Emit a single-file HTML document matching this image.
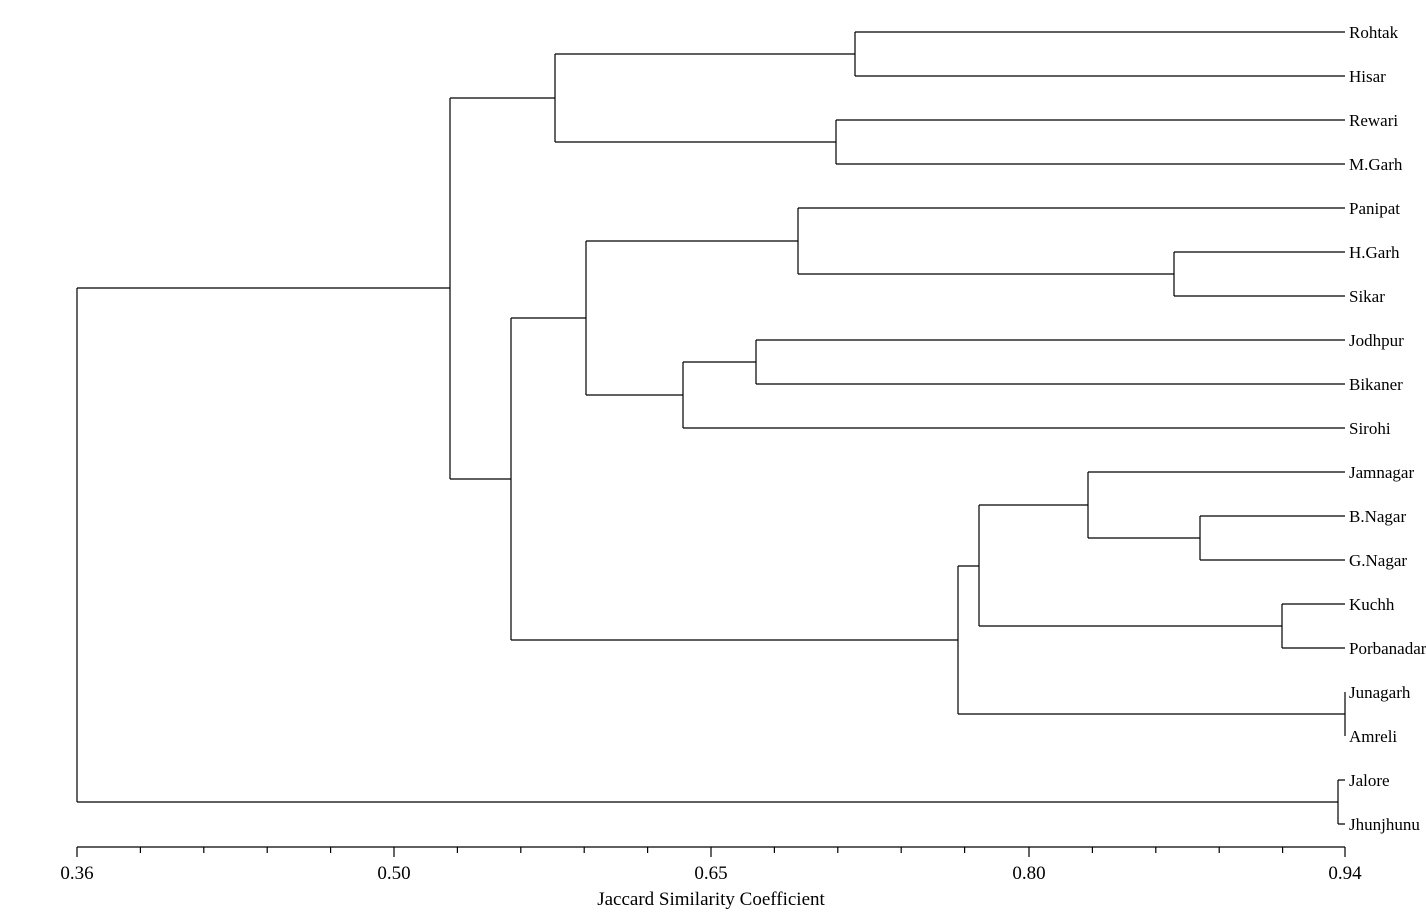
<!DOCTYPE html>
<html><head><meta charset="utf-8"><style>
html,body{margin:0;padding:0;background:#fff;}
svg{display:block;}
text{font-family:"Liberation Serif",serif;fill:#000;}
</style></head><body>
<svg width="1426" height="921" viewBox="0 0 1426 921" xmlns="http://www.w3.org/2000/svg">
<g stroke="#000" stroke-width="1.2" fill="none">
<!-- leaves horizontals -->
<path d="M855 32H1345M855 76H1345M836 120H1345M836 164H1345"/>
<path d="M798 208H1345M1174 252H1345M1174 296H1345"/>
<path d="M756 340H1345M756 384H1345M683 428H1345"/>
<path d="M1088 472H1345M1200 516H1345M1200 560H1345M1282 604H1345M1282 648H1345"/>
<path d="M1338 780H1345M1338 824H1345"/>
<!-- clusters -->
<path d="M855 32V76M836 120V164M555 54H855M555 142H836M555 54V142"/>
<path d="M1174 252V296M798 208V274M798 274H1174"/>
<path d="M756 340V384M683 362H756M683 362V428"/>
<path d="M586 241H798M586 395H683M586 241V395"/>
<path d="M1200 516V560M1088 538H1200M1088 472V538"/>
<path d="M1282 604V648M979 626H1282M979 505H1088M979 505V626"/>
<path d="M1345 692V736M958 566H979M958 714H1345M958 566V714"/>
<path d="M511 318H586M511 640H958M511 318V640"/>
<path d="M450 98H555M450 479H511M450 98V479"/>
<path d="M1338 780V824M77 802H1338M77 288H450M77 288V802"/>
<!-- axis -->
<path d="M77 847H1345"/>
<path d="M77 847V857M394 847V857M711 847V857M1029 847V857M1345 847V857"/>
<path d="M140.4 847V853M203.8 847V853M267.2 847V853M330.6 847V853M457.4 847V853M520.8 847V853M584.2 847V853M647.6 847V853M774.4 847V853M837.8 847V853M901.2 847V853M964.6 847V853M1092.4 847V853M1155.8 847V853M1219.2 847V853M1282.6 847V853"/>
</g>
<g font-size="17">
<text x="1349" y="38">Rohtak</text>
<text x="1349" y="82">Hisar</text>
<text x="1349" y="126">Rewari</text>
<text x="1349" y="170">M.Garh</text>
<text x="1349" y="214">Panipat</text>
<text x="1349" y="258">H.Garh</text>
<text x="1349" y="302">Sikar</text>
<text x="1349" y="346">Jodhpur</text>
<text x="1349" y="390">Bikaner</text>
<text x="1349" y="434">Sirohi</text>
<text x="1349" y="478">Jamnagar</text>
<text x="1349" y="522">B.Nagar</text>
<text x="1349" y="566">G.Nagar</text>
<text x="1349" y="610">Kuchh</text>
<text x="1349" y="654">Porbanadar</text>
<text x="1349" y="698">Junagarh</text>
<text x="1349" y="742">Amreli</text>
<text x="1349" y="786">Jalore</text>
<text x="1349" y="830">Jhunjhunu</text>
</g>
<g font-size="19" text-anchor="middle">
<text x="77" y="879">0.36</text>
<text x="394" y="879">0.50</text>
<text x="711" y="879">0.65</text>
<text x="1029" y="879">0.80</text>
<text x="1345" y="879">0.94</text>
<text x="711" y="905">Jaccard Similarity Coefficient</text>
</g>
</svg>
</body></html>
